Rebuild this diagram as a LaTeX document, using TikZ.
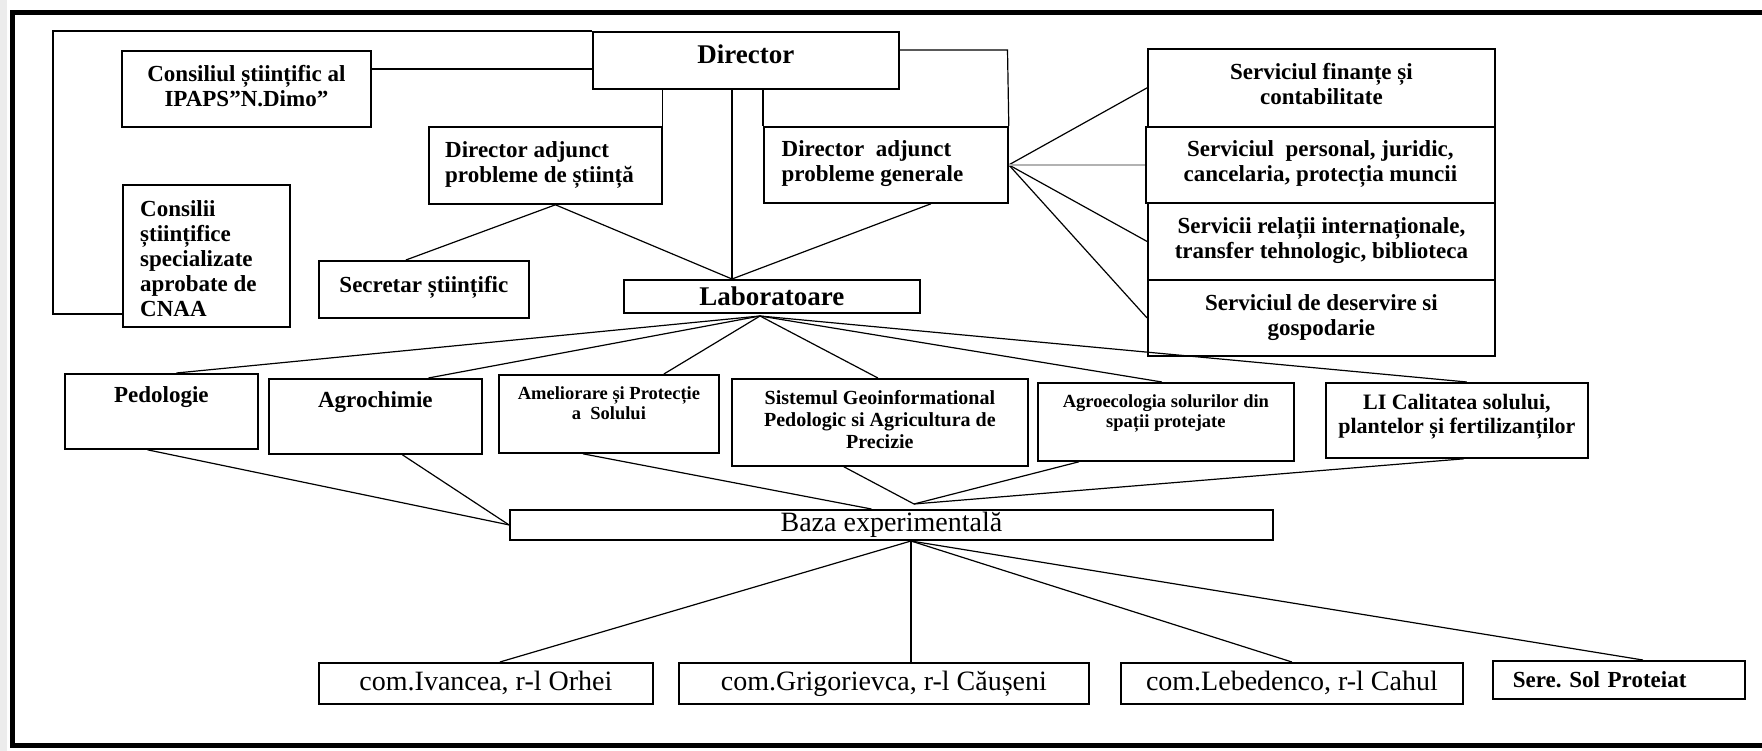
\documentclass[tikz,border=0pt]{standalone}
\usepackage{fontspec}
\setmainfont{Liberation Serif}
\usetikzlibrary{positioning}
\frenchspacing

\tikzset{
  box/.style={draw, line width=1.8pt, inner sep=0pt, anchor=north west},
  conn/.style={line width=1.2pt},
  txt/.style={inner sep=0pt, align=center, font=\bfseries\fontsize{23}{25}\selectfont},
  txtl/.style={txt, align=left},
  smalltxt/.style={txt, font=\bfseries\fontsize{18.5}{20}\selectfont},
  headtxt/.style={font=\bfseries\fontsize{27}{29}\selectfont},
  sitetxt/.style={font=\fontsize{28}{30}\selectfont},
}

\begin{document}
\begin{tikzpicture}[x=1pt, y=-1pt]
% page: 1762 x 751, y goes down
\useasboundingbox (0,0) rectangle (1762,751);
\fill[gray!15] (0,0) rectangle (6.5,751);
\draw[line width=5pt] (1770,12.5) -- (12,12.5) -- (12,745.5) -- (1770,745.5);

% conducere
\node[box, minimum width=306, minimum height=57] (dir) at (592,31) {};
\node[txt, headtxt, below=14pt of dir.north] (dir-t) {Director};
\node[box, minimum width=249, minimum height=76] (cons) at (121,50) {};
\node[txt, below=15pt of cons.north] (cons-t) {Consiliul științific al\\IPAPS”N.Dimo”};
\node[box, minimum width=233, minimum height=77] (da1) at (428,126) {};
\node[txtl, below right=15.5pt and 17pt of da1.north west] (da1-t) {Director adjunct\\probleme de știință};
\node[box, minimum width=244, minimum height=76] (da2) at (763,126) {};
\node[txtl, below right=14pt and 18.5pt of da2.north west] (da2-t) {Director~ adjunct\\probleme generale};
\node[box, minimum width=167, minimum height=142] (cnaa) at (122,184) {};
\node[txtl, below right=16pt and 18pt of cnaa.north west] (cnaa-t) {Consilii\\științifice\\specializate\\aprobate de\\CNAA};
\node[box, minimum width=210, minimum height=57] (secr) at (318,260) {};
\node[txt, below=16.5pt of secr.north] (secr-t) {Secretar științific};
\node[box, headtxt, minimum width=296, minimum height=33] (lab) at (623,279) {Laboratoare};

% servicii
\node[box, minimum width=347, minimum height=78] (serv1) at (1147,48) {};
\node[txt, below=15.5pt of serv1.north] (serv1-t) {Serviciul finanțe și\\contabilitate};
\node[box, minimum width=349, minimum height=76] (serv2) at (1145,126) {};
\node[txt, below=14pt of serv2.north] (serv2-t) {Serviciul~ personal, juridic,\\cancelaria, protecția muncii};
\node[box, minimum width=347, minimum height=77] (serv3) at (1147,202) {};
\node[txt, below=15pt of serv3.north] (serv3-t) {Servicii relații internaționale,\\transfer tehnologic, biblioteca};
\node[box, minimum width=347, minimum height=76] (serv4) at (1147,279) {};
\node[txt, below=15.5pt of serv4.north] (serv4-t) {Serviciul de deservire si\\gospodarie};

% laboratoare
\node[box, minimum width=193, minimum height=75] (ped) at (64,373) {};
\node[txt, below=13pt of ped.north] (ped-t) {Pedologie};
\node[box, minimum width=213, minimum height=75] (agro) at (268,378) {};
\node[txt, below=13pt of agro.north] (agro-t) {Agrochimie};
\node[box, minimum width=220, minimum height=78] (amel) at (498,374) {};
\node[smalltxt, below=12.7pt of amel.north] (amel-t) {Ameliorare și Protecție\\a~ Solului};
\node[box, minimum width=296, minimum height=87] (sist) at (731,378) {};
\node[txt, font=\bfseries\fontsize{20}{22}\selectfont, below=12.4pt of sist.north] (sist-t) {Sistemul Geoinformational\\Pedologic si Agricultura de\\Precizie};
\node[box, minimum width=256, minimum height=78] (agroeco) at (1037,382) {};
\node[smalltxt, below=12.3pt of agroeco.north] (agroeco-t) {Agroecologia solurilor din\\spații protejate};
\node[box, minimum width=262, minimum height=75] (li) at (1325,382) {};
\node[txt, font=\bfseries\fontsize{22}{24}\selectfont, below=12.3pt of li.north] (li-t) {LI Calitatea solului,\\plantelor și fertilizanților};

% baza experimentala
\node[box, sitetxt, minimum width=763, minimum height=30] (baza) at (509,509) {Baza experimentală};
\node[box, sitetxt, minimum width=334, minimum height=41] (iv) at (318,662) {com.Ivancea, r-l Orhei};
\node[box, sitetxt, minimum width=410, minimum height=41] (gr) at (678,662) {com.Grigorievca, r-l Căușeni};
\node[box, sitetxt, minimum width=342, minimum height=41] (leb) at (1120,662) {com.Lebedenco, r-l Cahul};
\node[box, font=\bfseries\fontsize{23}{25}\selectfont, minimum width=252, minimum height=38,
      text width=212, inner xsep=20pt, align=left] (sere) at (1492,660) {Sere. Sol Proteiat};

% legaturi de sus
\coordinate (brtop) at (53,31);
\coordinate (brbot) at (53,314);
\draw[conn] (dir.north west) -- (brtop) -- (brbot) -- (brbot -| cnaa.west);
\coordinate (cd) at (0,69);
\draw[conn] (cons.east |- cd) -- (dir.west |- cd);
\draw[conn] (da1.north east) -- (da1.north east |- dir.south);
\coordinate (labin) at (732,279);
\draw[conn] (labin |- dir.south) -- (labin);
\draw[conn] (da2.north west) -- (da2.north west |- dir.south);
\coordinate (drt) at (1007.5,50);
\draw[conn] (dir.east |- drt) -- (drt) -- (da2.north east);
\draw[conn] ([xshift=10pt]da1.south) -- ([xshift=-18pt]secr.north);
\draw[conn] ([xshift=10pt]da1.south) -- (labin);
\draw[conn] ([xshift=45pt]da2.south) -- (labin);
\foreach \s in {serv1,serv3,serv4}
  \draw[conn] (da2.east) -- (\s.west);
\draw[line width=2.6pt, gray!60] (da2.east) -- (serv2.west);

% laboratoare -> laboratoare
\coordinate (labout) at (760,316);
\foreach \n/\dx in {ped/15, agro/53, amel/55, sist/-2, agroeco/-4, li/10}
  \draw[conn] (labout) -- ([xshift=\dx pt]\n.north);

% laboratoare -> baza
\coordinate (bzin) at (914,504);
\foreach \n/\dx in {sist/-36, agroeco/-87, li/7}
  \draw[conn] ([xshift=\dx pt]\n.south) -- (bzin);
\draw[conn] ([xshift=-26pt]amel.south) -- ([xshift=-20pt]baza.north);
\foreach \n/\dx in {ped/-14, agro/27}
  \draw[conn] ([xshift=\dx pt]\n.south) -- (baza.west);

% baza -> sectoare
\coordinate (bzout) at (911,541);
\foreach \n/\dx in {iv/14, leb/0, sere/24}
  \draw[conn] (bzout) -- ([xshift=\dx pt]\n.north);
\draw[conn] (bzout) -- (bzout |- gr.north);
\end{tikzpicture}
\end{document}
